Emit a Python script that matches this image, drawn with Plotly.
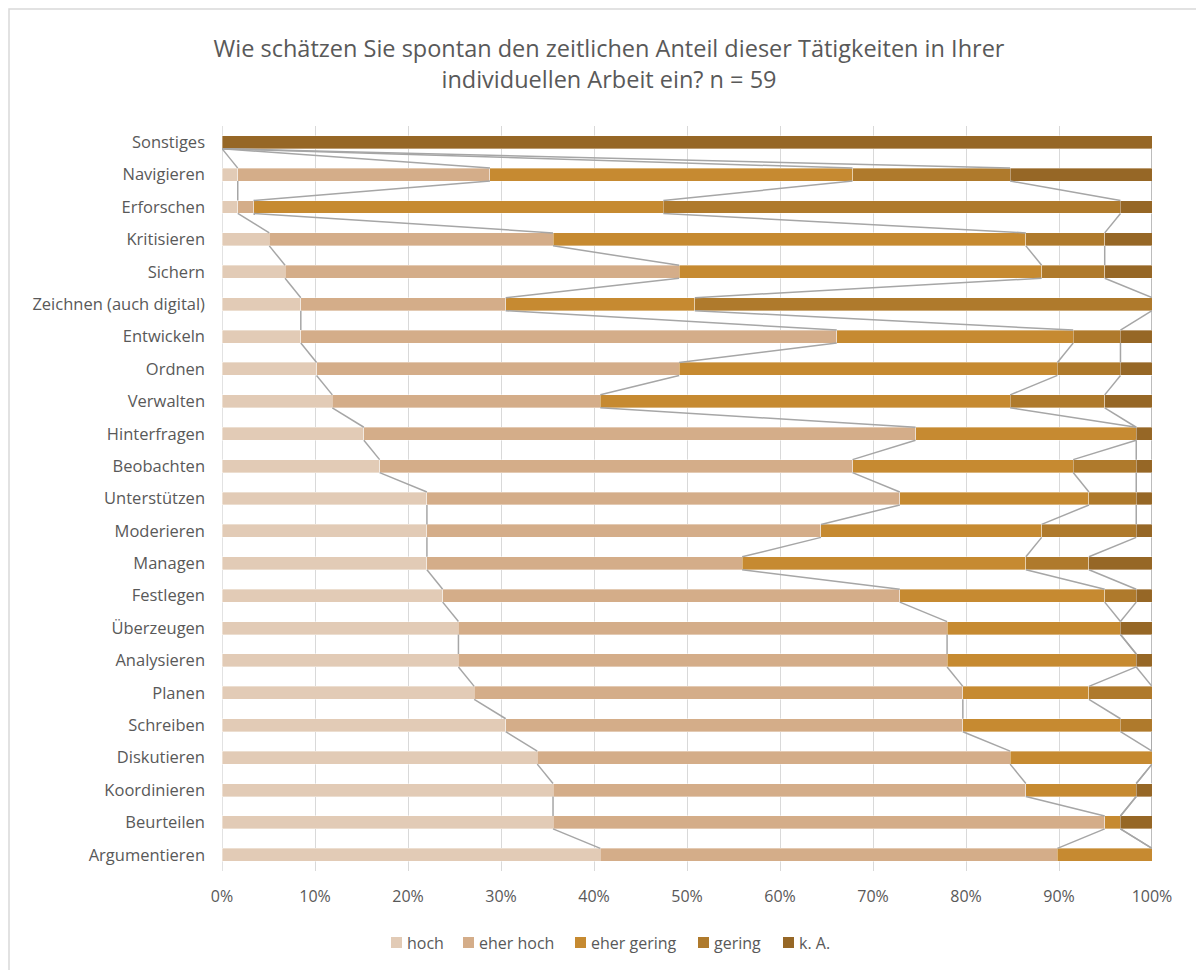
import plotly.graph_objects as go

N = 59
# categories from top to bottom as in the chart
categories = ["Sonstiges", "Navigieren", "Erforschen", "Kritisieren", "Sichern",
              "Zeichnen (auch digital)", "Entwickeln", "Ordnen", "Verwalten",
              "Hinterfragen", "Beobachten", "Unterstützen", "Moderieren", "Managen",
              "Festlegen", "Überzeugen", "Analysieren", "Planen", "Schreiben",
              "Diskutieren", "Koordinieren", "Beurteilen", "Argumentieren"]

# counts (n = 59), same order as categories
hoch        = [0, 1, 1, 3, 4, 5, 5, 6, 7, 9, 10, 13, 13, 13, 14, 15, 15, 16, 18, 20, 21, 21, 24]
eher_hoch   = [0, 16, 1, 18, 25, 13, 34, 23, 17, 35, 30, 30, 25, 20, 29, 31, 31, 31, 29, 30, 30, 35, 29]
eher_gering = [0, 23, 26, 30, 23, 12, 15, 24, 26, 14, 14, 12, 14, 18, 13, 11, 12, 8, 10, 9, 7, 1, 6]
gering      = [0, 10, 29, 5, 4, 29, 3, 4, 6, 0, 4, 3, 6, 4, 2, 0, 0, 4, 2, 0, 0, 0, 0]
k_a         = [59, 9, 2, 3, 3, 0, 2, 2, 3, 1, 1, 1, 1, 4, 1, 2, 1, 0, 0, 0, 1, 2, 0]

series_names = ["hoch", "eher hoch", "eher gering", "gering", "k. A."]
series_values = [hoch, eher_hoch, eher_gering, gering, k_a]
colors = ["#E2CBB6", "#D4AD89", "#C68A31", "#AF7A2C", "#966726"]

title_text = ("Wie schätzen Sie spontan den zeitlichen Anteil dieser Tätigkeiten in Ihrer"
              "<br>individuellen Arbeit ein? n = 59")

# bottom-to-top ordering for numeric y positions
cats_bt = categories[::-1]
ypos = list(range(len(cats_bt)))
BAR_W = 0.4

W, H = 1196, 970
L, R, T, B = 222, 44, 126, 99
pw, ph = W - L - R, H - T - B


def px_x(x):
    return (x - L) / pw


def px_y(y):
    return (H - B - y) / ph


fig = go.Figure()
cum = [0.0] * len(cats_bt)
cum_list = []
for name, vals, col in zip(series_names, series_values, colors):
    v_bt = vals[::-1]
    pct = [v / N * 100 for v in v_bt]
    fig.add_trace(go.Bar(
        x=pct, y=ypos, orientation="h", name=name, width=BAR_W, showlegend=False,
        marker=dict(color=col, line=dict(color="rgba(255,255,255,0.6)", width=0.6)),
        hovertemplate="%{x:.1f}%<extra>" + name + "</extra>",
    ))
    cum = [c + p for c, p in zip(cum, pct)]
    cum_list.append(list(cum))

# series lines (Excel style) connecting the segment ends of adjacent bars
for cum_vals in cum_list:
    xs, ys = [], []
    for i in range(len(ypos) - 1):
        xs += [cum_vals[i], cum_vals[i + 1], None]
        ys += [ypos[i] + BAR_W / 2, ypos[i + 1] - BAR_W / 2, None]
    fig.add_trace(go.Scatter(x=xs, y=ys, mode="lines", showlegend=False,
                             line=dict(color="#A6A6A6", width=1.5), hoverinfo="skip"))

# manual legend (swatch + text), positioned like the reference
legend_x = [391, 463, 575, 698, 783]
legend_y = 942.5
SW = 11
shapes = [
    dict(type="line", xref="x", yref="paper", x0=0, x1=0, y0=0, y1=1,
         line=dict(color="#D9D9D9", width=1.5), layer="below"),
    dict(type="rect", xref="paper", yref="paper",
         x0=px_x(9), x1=px_x(1210), y0=px_y(985), y1=px_y(9),
         line=dict(color="#D9D9D9", width=1.5), fillcolor="rgba(0,0,0,0)"),
]
annotations = []
for lx, name, col in zip(legend_x, series_names, colors):
    shapes.append(dict(type="rect", xref="paper", yref="paper",
                       x0=px_x(lx), x1=px_x(lx + SW),
                       y0=px_y(legend_y + SW / 2), y1=px_y(legend_y - SW / 2),
                       fillcolor=col, line=dict(width=0)))
    annotations.append(dict(text=name, xref="paper", yref="paper",
                            x=px_x(lx + SW + 3), y=px_y(legend_y),
                            xanchor="left", yanchor="middle", showarrow=False,
                            font=dict(size=16, color="#595959")))

fig.update_layout(
    width=W, height=H,
    barmode="stack",
    bargap=0.6,
    showlegend=False,
    plot_bgcolor="white", paper_bgcolor="white",
    margin=dict(l=L, r=R, t=T, b=B),
    font=dict(family="Open Sans, Lato, sans-serif", color="#595959", size=16),
    title=dict(text=title_text, x=609 / W, xanchor="center", xref="container",
               y=1 - 57 / H, yanchor="middle", yref="container",
               font=dict(size=23.5, color="#595959")),
    xaxis=dict(range=[0, 100], tickvals=list(range(0, 101, 10)),
               ticktext=[f"{v}%" for v in range(0, 101, 10)],
               showgrid=True, gridcolor="#D9D9D9", gridwidth=1, zeroline=False,
               showline=False, ticks="", ticklabelstandoff=14,
               tickfont=dict(size=16, color="#595959"), fixedrange=True),
    yaxis=dict(range=[-0.5, len(cats_bt) - 0.5], tickvals=ypos, ticktext=cats_bt,
               showgrid=False, zeroline=False, showline=False, ticks="",
               ticklabelstandoff=16,
               tickfont=dict(size=16.5, color="#595959"), fixedrange=True),
    shapes=shapes,
    annotations=annotations,
)

fig.write_html("out.html")
